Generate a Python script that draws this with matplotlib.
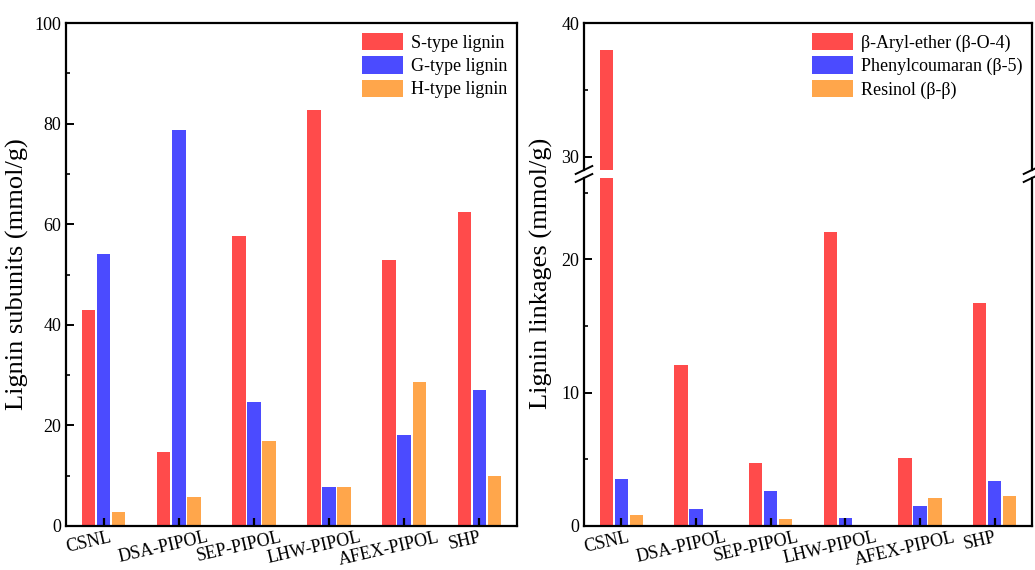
import numpy as np
import matplotlib
matplotlib.use("Agg")
import matplotlib.pyplot as plt
import matplotlib.transforms as mtransforms
from matplotlib.ticker import MultipleLocator

plt.rcParams["font.family"] = ["Liberation Serif", "DejaVu Serif"]

samples = ["CSNL", "DSA-PIPOL", "SEP-PIPOL", "LHW-PIPOL", "AFEX-PIPOL", "SHP"]

# subunits (mmol/g)
s_type = [43.0, 14.8, 57.7, 82.8, 52.8, 62.5]
g_type = [54.0, 78.8, 24.7, 7.7, 18.0, 27.1]
h_type = [2.8, 5.8, 16.8, 7.7, 28.6, 9.9]
subunit_labels = ["S-type lignin", "G-type lignin", "H-type lignin"]

# linkages (mmol/g)
beta_o4 = [38.0, 12.1, 4.7, 22.05, 5.1, 16.7]
beta_5 = [3.5, 1.3, 2.65, 0.6, 1.5, 3.4]
beta_beta = [0.8, 0.0, 0.5, 0.1, 2.1, 2.25]
linkage_labels = ["β-Aryl-ether (β-O-4)", "Phenylcoumaran (β-5)", "Resinol (β-β)"]

COLORS = ["#ff4b4b", "#4b4bff", "#ffa64b"]
x = np.arange(len(samples))
W = 0.18
OFF = [-0.2, 0.0, 0.2]
LEG = dict(loc="upper right", frameon=False, fontsize=13, handlelength=2.3,
           handleheight=1.1, handletextpad=0.4, labelspacing=0.25, borderaxespad=0.15)


def style_axis(ax, major, minor):
    for sp in ax.spines.values():
        sp.set_linewidth(1.6)
    ax.yaxis.set_major_locator(MultipleLocator(major))
    ax.yaxis.set_minor_locator(MultipleLocator(minor))
    ax.tick_params(axis="y", which="major", direction="in", length=6, width=1.4,
                   labelsize=13, right=False)
    ax.tick_params(axis="y", which="minor", direction="in", length=3, width=1.2, right=False)
    ax.tick_params(axis="x", direction="in", length=6, width=1.6, top=False)
    ax.set_xlim(-0.5, 5.5)


def draw_bars(ax, series):
    for i, vals in enumerate(series):
        ax.bar(x + OFF[i], vals, W, color=COLORS[i], linewidth=0)


def sample_ticks(ax):
    ax.set_xticks(x)
    ax.set_xticklabels(samples, rotation=13, fontsize=13, ha="center")
    shift = mtransforms.ScaledTranslation(-15 / 100, 2 / 100, fig.dpi_scale_trans)
    for lab in ax.get_xticklabels():
        lab.set_transform(lab.get_transform() + shift)


fig = plt.figure(figsize=(10.35, 5.7), dpi=100)

# left panel: subunits
ax1 = fig.add_axes([66 / 1035, 44 / 570, 451 / 1035, 503 / 570])
draw_bars(ax1, [s_type, g_type, h_type])
style_axis(ax1, 20, 10)
ax1.set_ylim(0, 100)
sample_ticks(ax1)
ax1.set_ylabel("Lignin subunits (mmol/g)", fontsize=19, labelpad=4)
ax1.legend(subunit_labels, **LEG)

# right panel: linkages with a broken y axis
L2, R2 = 584 / 1035, 1032 / 1035
lo = fig.add_axes([L2, 44 / 570, R2 - L2, 348 / 570])
hi = fig.add_axes([L2, 400 / 570, R2 - L2, 147 / 570])
for ax in (lo, hi):
    draw_bars(ax, [beta_o4, beta_5, beta_beta])
style_axis(lo, 10, 5)
style_axis(hi, 10, 5)
lo.set_ylim(0, 26.1)
hi.set_ylim(29, 40)
lo.spines["top"].set_visible(False)
hi.spines["bottom"].set_visible(False)
hi.tick_params(axis="x", bottom=False, labelbottom=False)
sample_ticks(lo)
hi.legend(linkage_labels, **LEG)

# break marks on both spines
d = 0.008
kw = dict(color="k", lw=1.4, clip_on=False, transform=fig.transFigure)
for xs in (L2, R2):
    for yb in (392 / 570, 400 / 570):
        fig.add_artist(plt.Line2D([xs - d, xs + d], [yb - 0.007, yb + 0.007], **kw))

fig.text(541 / 1035, 0.52, "Lignin linkages (mmol/g)", rotation=90, fontsize=19,
         ha="center", va="center")

fig.savefig("out.png", dpi=100)
